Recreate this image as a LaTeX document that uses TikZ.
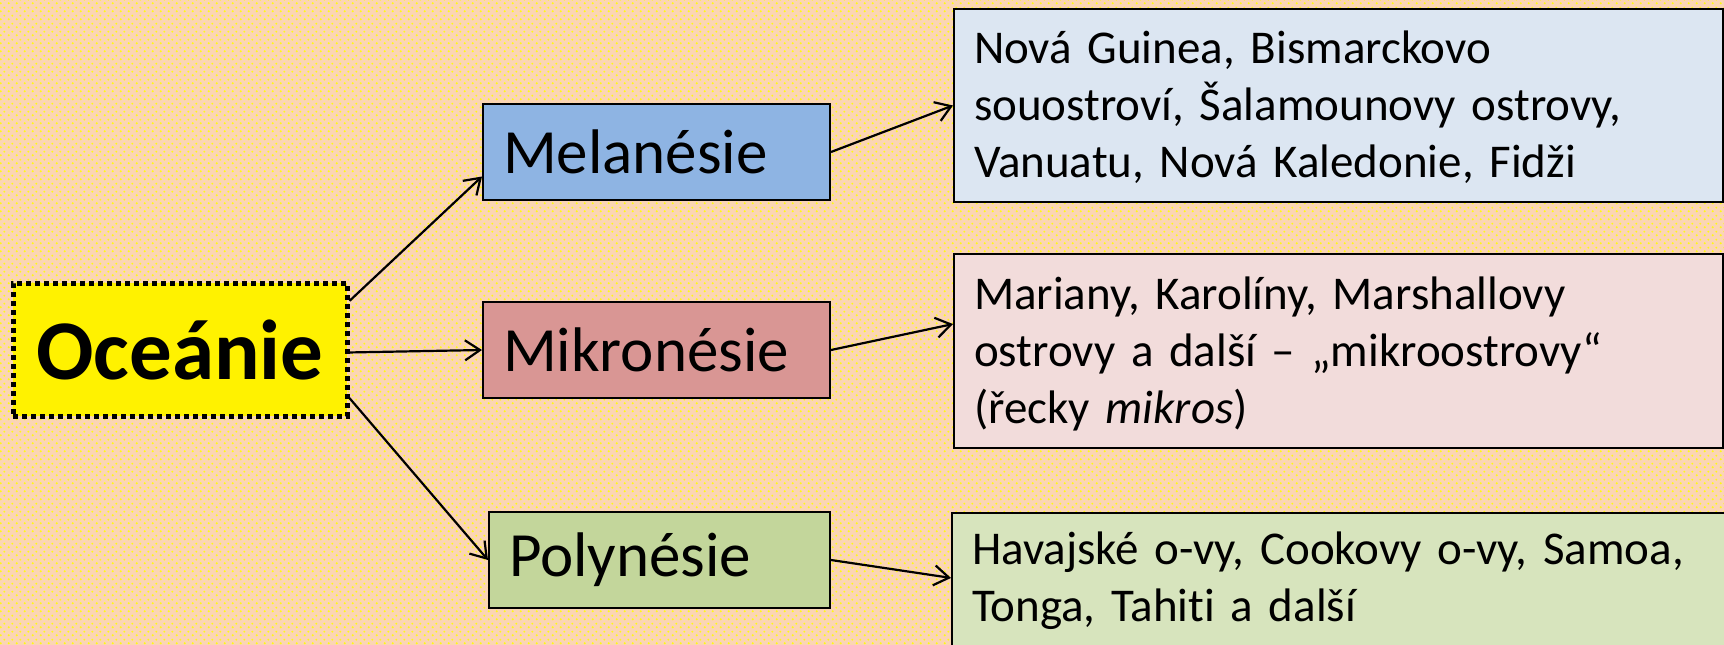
\documentclass[tikz,border=0pt]{standalone}
\usepackage{fontspec}
\setmainfont{Carlito}[Ligatures=NoCommon]
\usetikzlibrary{arrows.meta,patterns.meta}

\definecolor{peach}{RGB}{251,213,180}
\definecolor{speck}{RGB}{255,250,20}
\definecolor{melblue}{RGB}{142,180,227}
\definecolor{mikrose}{RGB}{217,150,148}
\definecolor{polgreen}{RGB}{195,214,155}
\definecolor{mellight}{RGB}{220,230,242}
\definecolor{miklight}{RGB}{242,220,219}
\definecolor{pollight}{RGB}{215,228,189}

\tikzdeclarepattern{
  name=specks,
  type=uncolored,
  bounding box={(0pt,0pt) and (8pt,8pt)},
  tile size={(8pt,8pt)},
  code={
    \fill (2pt,2pt) circle (1.2pt);
    \fill (6pt,6pt) circle (1.2pt);
  }
}

\begin{document}
\begin{tikzpicture}[x=1pt,y=-1pt,
    catbox/.style={draw,line width=2pt,inner xsep=20pt,text width=307pt,minimum height=96pt,align=left,font=\fontsize{63}{76}\selectfont},
    listbox/.style={draw,line width=2pt,anchor=north west,inner xsep=20pt,inner ysep=16pt,text width=729pt,align=left,font=\fontsize{47}{57}\selectfont},
    link/.style={-{Straight Barb[length=15pt,width=20pt]},line width=2.2pt}]
  \useasboundingbox (0,0) rectangle (1724,645);
  \fill[peach] (0,0) rectangle (1724,645);
  \fill[pattern=specks,pattern color=speck] (0,0) rectangle (1724,645);

  \path (180,349.5) node[draw,fill=yellow,line width=5pt,dash pattern=on 5pt off 4pt,inner sep=0pt,
      minimum width=334pt,minimum height=133pt,font=\bfseries\fontsize{85}{100}\selectfont] (oce) {Oceánie};

  \path (656.5,152) node[catbox,fill=melblue] (mel) {Melanésie};
  \path (656.5,350) node[catbox,fill=mikrose] (mik) {Mikronésie};
  \path (659.5,560) node[catbox,fill=polgreen,text width=301pt] (pol) {Polynésie};

  \path (953,8) node[listbox,fill=mellight,text height=38pt,text depth=123pt] (mellist)
      {Nová Guinea, Bismarckovo\\ souostroví, Šalamounovy ostrovy,\\ Vanuatu, Nová Kaledonie, Fidži};
  \path (953,253) node[listbox,fill=miklight,text height=39pt,text depth=123pt] (miklist)
      {Mariany, Karolíny, Marshallovy\\ ostrovy a další – „mikroostrovy“\\ (řecky \textit{mikros})};
  \path (951,512) node[listbox,fill=pollight,text width=735pt,text height=35pt,text depth=90pt] (pollist)
      {Havajské o-vy, Cookovy o-vy, Samoa,\\ Tonga, Tahiti a další};

  \draw[link] (oce.16.6) -- (mel.188.5);
  \draw[link] (oce.-1) -- (mik.west);
  \draw[link] (oce.-16.7) -- (pol.west);
  \draw[link] (mel.east) -- (mellist.west);
  \draw[link] (mik.east) -- (miklist.176.6);
  \draw[link] (pol.east) -- (pollist.178);
\end{tikzpicture}
\end{document}
